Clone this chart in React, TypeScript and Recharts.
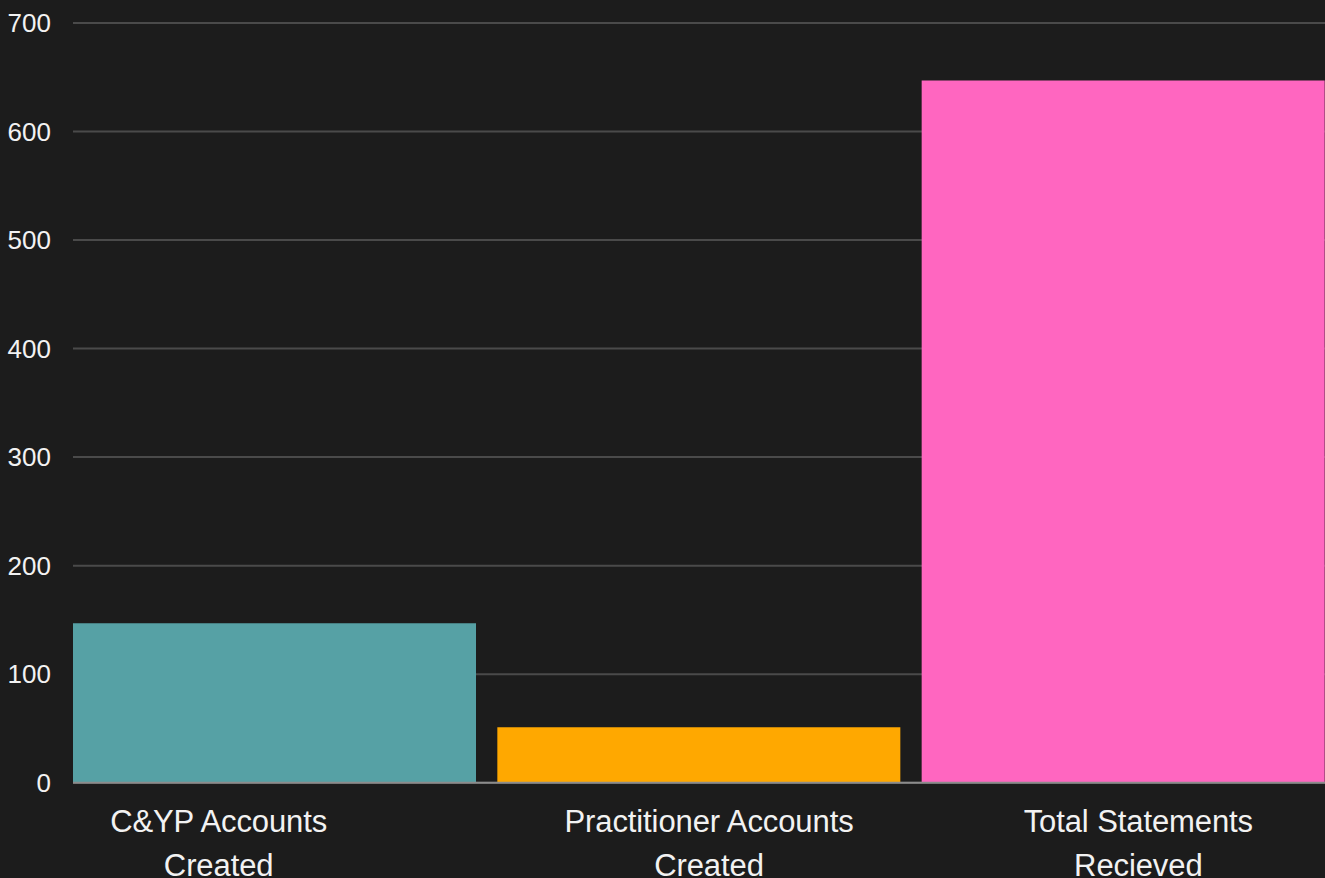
import { Bar, BarChart, CartesianGrid, Cell, XAxis, YAxis } from 'recharts';

const categories = ['C&YP Accounts Created', 'Practitioner Accounts Created', 'Total Statements Recieved'];
const values = [147, 51, 647];
const barColors = ['#56a1a5', '#ffa800', '#ff66c0'];
const yTicks = [0, 100, 200, 300, 400, 500, 600, 700];

const rows = categories.map((name, i) => ({ name, value: values[i] }));

const FONT = '"Helvetica Neue", "Liberation Sans", Arial, sans-serif';
// the source labels sit a little off the band centres
const LABEL_SHIFT = [-56, 10, 15];

function splitLabel(s: string): string[] {
  const k = s.lastIndexOf(' ');
  return k < 0 ? [s] : [s.slice(0, k), s.slice(k + 1)];
}

function CategoryTick(props: any) {
  const { x, y, payload, index } = props;
  const lines = splitLabel(String(payload.value));
  const cx = x + (LABEL_SHIFT[index] ?? 0);
  return (
    <text
      x={cx}
      y={y}
      textAnchor="middle"
      fill="#f2f2f2"
      fontSize={31}
      letterSpacing={-0.1}
      fontFamily={FONT}
      fontWeight={300}
    >
      {lines.map((ln, i) => (
        <tspan key={i} x={cx} y={y + 49 + i * 44}>
          {ln}
        </tspan>
      ))}
    </text>
  );
}

export default function App() {
  return (
    <div
      style={{
        position: 'absolute',
        left: 0,
        top: 0,
        width: 1325,
        height: 878,
        background: '#1c1c1c',
        overflow: 'hidden',
      }}
    >
      <BarChart
        width={1325}
        height={878}
        data={rows}
        margin={{ top: 23, right: 0, left: 0, bottom: 0 }}
        barCategoryGap={10.5}
      >
        <CartesianGrid vertical={false} stroke="#4a4a4a" strokeWidth={2} />
        <XAxis
          dataKey="name"
          height={95.3}
          padding={{ left: -10.5, right: -10.5 }}
          tickLine={false}
          tickSize={0}
          tickMargin={0}
          axisLine={{ stroke: '#8c8c8c', strokeWidth: 2 }}
          tick={<CategoryTick />}
          interval={0}
        />
        <YAxis
          width={73}
          domain={[0, 700]}
          ticks={yTicks}
          axisLine={false}
          tickLine={false}
          tickSize={0}
          tickMargin={22}
          tick={{ fill: '#f2f2f2', fontSize: 26, fontFamily: FONT, fontWeight: 300 }}
        />
        <Bar dataKey="value" isAnimationActive={false}>
          {rows.map((r, i) => (
            <Cell key={r.name} fill={barColors[i]} />
          ))}
        </Bar>
      </BarChart>
    </div>
  );
}
